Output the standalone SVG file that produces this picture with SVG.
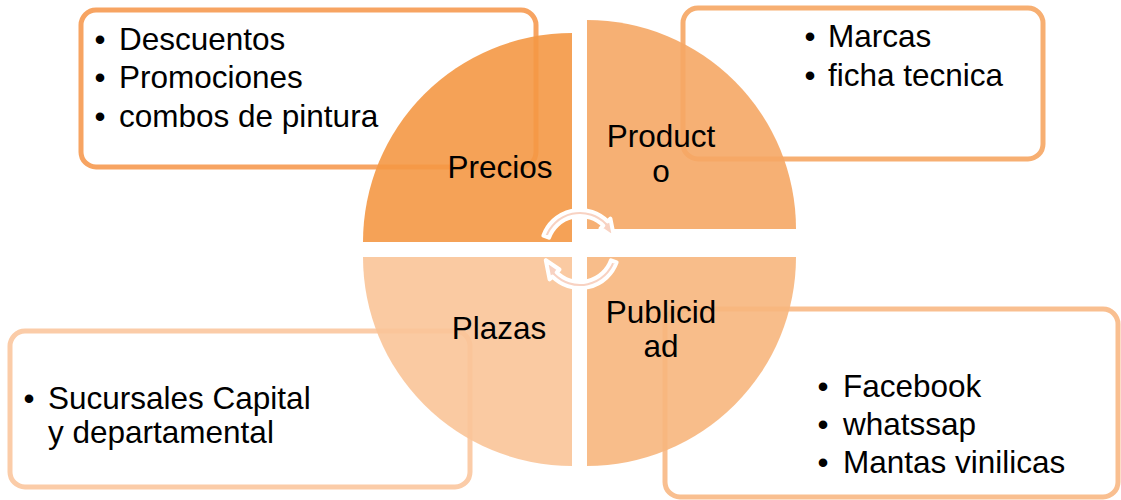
<svg xmlns="http://www.w3.org/2000/svg" width="1121" height="500" viewBox="0 0 1121 500">
<defs>
<style>
text{font-family:"Liberation Sans",Arial,sans-serif;font-size:31.5px;fill:#000}
.box{fill:#fff;stroke-width:5}
.q{opacity:0.9}
.lbl{text-anchor:middle}
.bul{text-anchor:middle}
.arr{fill:#F8D2C2;stroke:#fff;stroke-width:4;stroke-linejoin:round}
</style>
<path id="cyc" d="M543.35,235.66 A39,39 0 0 1 607.58,221.42 L610.41,218.59 L614.24,237.88 L600.51,228.49 L603.33,225.67 A33,33 0 0 0 548.99,237.71 Z"/>
</defs>
<rect width="1121" height="500" fill="#fff"/>

<g id="box-precios">
<rect class="box" x="81" y="10" width="455" height="157" rx="15" stroke="#F7A462"/>
<text class="bul" x="100" y="50">•</text><text x="119" y="50">Descuentos</text>
<text class="bul" x="100" y="88">•</text><text x="119" y="88">Promociones</text>
<text class="bul" x="100" y="127">•</text><text x="119" y="127">combos de pintura</text>
</g>
<g id="box-producto">
<rect class="box" x="683" y="8" width="360" height="151" rx="15" stroke="#F7AF72"/>
<text class="bul" x="810" y="47">•</text><text x="828" y="47">Marcas</text>
<text class="bul" x="810" y="86">•</text><text x="828" y="86">ficha tecnica</text>
</g>
<g id="box-plazas">
<rect class="box" x="10" y="331" width="460" height="156" rx="15" stroke="#FBCCA8"/>
<text class="bul" x="29" y="409">•</text><text x="48" y="409">Sucursales Capital</text>
<text x="48" y="443">y departamental</text>
</g>
<g id="box-publicidad">
<rect class="box" x="665" y="309" width="453" height="188" rx="15" stroke="#F9BF90"/>
<text class="bul" x="823" y="397">•</text><text x="843" y="397">Facebook</text>
<text class="bul" x="823" y="435">•</text><text x="843" y="435">whatssap</text>
<text class="bul" x="823" y="473">•</text><text x="843" y="473">Mantas vinilicas</text>
</g>

<g id="precios">
<path class="q" d="M572,242 L363,242 A209,209 0 0 1 572,33 Z" fill="#F49845"/>
<text class="lbl" x="500" y="178">Precios</text>
</g>
<g id="producto">
<path class="q" d="M587,229 L587,20 A209,209 0 0 1 796,229 Z" fill="#F5A765"/>
<text class="lbl" x="661" y="147">Product</text>
<text class="lbl" x="661" y="182">o</text>
</g>
<g id="plazas">
<path class="q" d="M572,257 L572,466 A209,209 0 0 1 363,257 Z" fill="#F9C498"/>
<text class="lbl" x="499" y="339">Plazas</text>
</g>
<g id="publicidad">
<path class="q" d="M587,257 L796,257 A209,209 0 0 1 587,466 Z" fill="#F7B67D"/>
<text class="lbl" x="661" y="323">Publicid</text>
<text class="lbl" x="661" y="357">ad</text>
</g>

<g id="connectors">
<use href="#cyc" class="arr"/>
<use href="#cyc" class="arr" transform="rotate(180 580 249)"/>
</g>
</svg>
